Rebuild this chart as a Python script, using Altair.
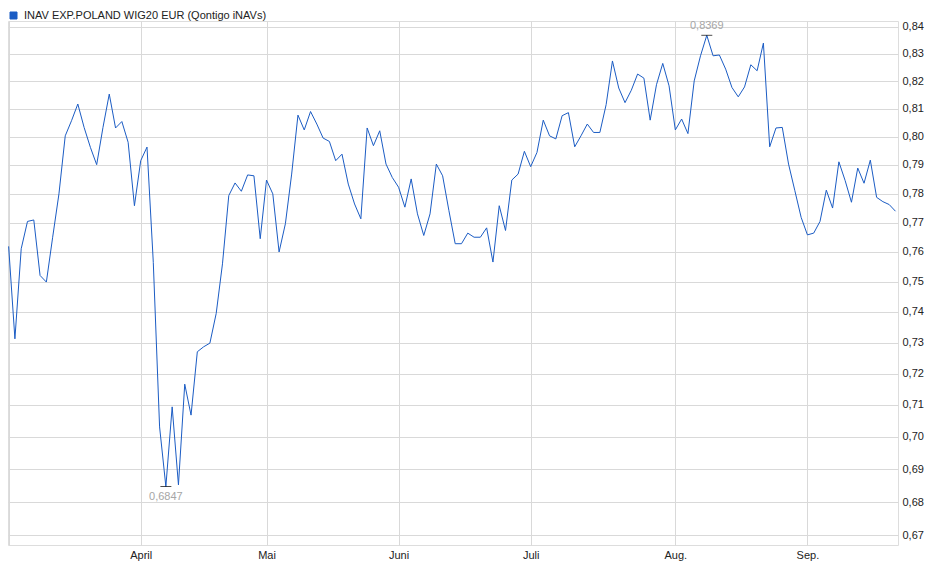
import altair as alt
import pandas as pd

# Trading-day index (2025-03-03 .. 2025-09-19)
values = [
    0.7619, 0.7312, 0.7611, 0.7704, 0.7709, 0.7521, 0.7499, 0.7650, 0.7799, 0.8003,
    0.8057, 0.8117, 0.8033, 0.7962, 0.7901, 0.8033, 0.8153, 0.8031, 0.8054, 0.7980,
    0.7758, 0.7915, 0.7963, 0.7565, 0.7031, 0.6847, 0.7094, 0.6852, 0.7166, 0.7068,
    0.7270, 0.7286, 0.7298, 0.7395, 0.7560, 0.7793, 0.7837, 0.7808, 0.7865, 0.7862,
    0.7645, 0.7847, 0.7799, 0.7600, 0.7696, 0.7868, 0.8077, 0.8024, 0.8090, 0.8045,
    0.7995, 0.7983, 0.7915, 0.7938, 0.7833, 0.7764, 0.7713, 0.8031, 0.7968, 0.8021,
    0.7903, 0.7856, 0.7822, 0.7753, 0.7851, 0.7730, 0.7656, 0.7730, 0.7903, 0.7862,
    0.7741, 0.7628, 0.7628, 0.7664, 0.7650, 0.7650, 0.7682, 0.7566, 0.7758, 0.7673,
    0.7847, 0.7868, 0.7948, 0.7894, 0.7944, 0.8059, 0.8003, 0.7992, 0.8075, 0.8086,
    0.7964, 0.8003, 0.8045, 0.8015, 0.8015, 0.8115, 0.8274, 0.8175, 0.8122, 0.8167,
    0.8226, 0.8211, 0.8059, 0.8187, 0.8265, 0.8183, 0.8024, 0.8063, 0.8011, 0.8201,
    0.8293, 0.8369, 0.8293, 0.8296, 0.8244, 0.8177, 0.8143, 0.8179, 0.8260, 0.8238,
    0.8340, 0.7964, 0.8031, 0.8033, 0.7903, 0.7810, 0.7718, 0.7658, 0.7664, 0.7704,
    0.7812, 0.7750, 0.7911, 0.7845, 0.7770, 0.7889, 0.7836, 0.7917, 0.7787, 0.7772,
    0.7762, 0.7739,
]
series_name = "INAV EXP.POLAND WIG20 EUR (Qontigo iNAVs)"

# month tick positions (index of first trading day) and labels
month_ticks = [0, 21, 41, 62, 83, 106, 127]
month_labels = ["", "April", "Mai", "Juni", "Juli", "Aug.", "Sep."]

y_ticks = [0.67, 0.68, 0.69, 0.70, 0.71, 0.72, 0.73, 0.74, 0.75, 0.76,
           0.77, 0.78, 0.79, 0.80, 0.81, 0.82, 0.83, 0.84]

df = pd.DataFrame({"i": list(range(len(values))), "value": values, "series": series_name})

imax = max(range(len(values)), key=lambda k: values[k])
imin = min(range(len(values)), key=lambda k: values[k])
ext_max = df.iloc[[imax]].copy()
ext_min = df.iloc[[imin]].copy()

label_expr = "''"
for v, l in reversed(list(zip(month_ticks, month_labels))):
    label_expr = f"datum.value == {v} ? '{l}' : ({label_expr})"

FONT = "Liberation Sans"
GRID = "#d9d9d9"
BLUE = "#1b5cc4"

x_enc = alt.X(
    "i:Q",
    scale=alt.Scale(domain=[-0.1, 141.4], nice=False, zero=False),
    axis=alt.Axis(values=month_ticks, labelExpr=label_expr, grid=True, gridColor=GRID,
                  ticks=False, domain=False, labelPadding=4, labelAngle=0, labelFlush=False,
                  labelFont=FONT, labelFontSize=11, labelColor="#222222", title=None),
)
y_enc = alt.Y(
    "value:Q",
    scale=alt.Scale(type="log", domain=[0.66712, 0.84224], nice=False),
    axis=alt.Axis(orient="right", values=y_ticks,
                  labelExpr="replace(format(datum.value, '.2f'), '.', ',')",
                  grid=True, gridColor=GRID, ticks=False, domain=False, labelPadding=4,
                  labelFont=FONT, labelFontSize=11, labelColor="#222222", title=None),
)

line = alt.Chart(df).mark_line(strokeWidth=1).encode(
    x=x_enc,
    y=y_enc,
    color=alt.Color("series:N", scale=alt.Scale(range=[BLUE]),
                    legend=alt.Legend(orient="none", legendX=0, legendY=-11, title=None,
                                      symbolType="square", symbolSize=49,
                                      symbolFillColor=BLUE, symbolStrokeColor="#0e2f70",
                                      symbolStrokeWidth=1, labelFont=FONT, labelFontSize=11,
                                      labelColor="#222222", labelOffset=5, labelLimit=600,
                                      padding=0)),
)

tick_max = alt.Chart(ext_max).mark_tick(orient="horizontal", size=11, thickness=1, color="black").encode(
    x="i:Q", y="value:Q")
tick_min = alt.Chart(ext_min).mark_tick(orient="horizontal", size=11, thickness=1, color="black").encode(
    x="i:Q", y="value:Q")

txt_max = alt.Chart(ext_max).transform_calculate(
    lab="replace(format(datum.value, '.4f'), '.', ',')"
).mark_text(dy=-9, font=FONT, fontSize=11, color="#a6a6a6").encode(x="i:Q", y="value:Q", text="lab:N")
txt_min = alt.Chart(ext_min).transform_calculate(
    lab="replace(format(datum.value, '.4f'), '.', ',')"
).mark_text(dy=10, font=FONT, fontSize=11, color="#a6a6a6").encode(x="i:Q", y="value:Q", text="lab:N")

chart = alt.layer(line, tick_max, tick_min, txt_max, txt_min).properties(
    width=890, height=524, autosize="none",
    padding={"left": 0, "top": 13, "right": 34, "bottom": 26},
).configure_view(stroke=GRID, strokeWidth=1).configure(background="white")

chart.save("out.html", embed_options={"renderer": "svg", "actions": False})
